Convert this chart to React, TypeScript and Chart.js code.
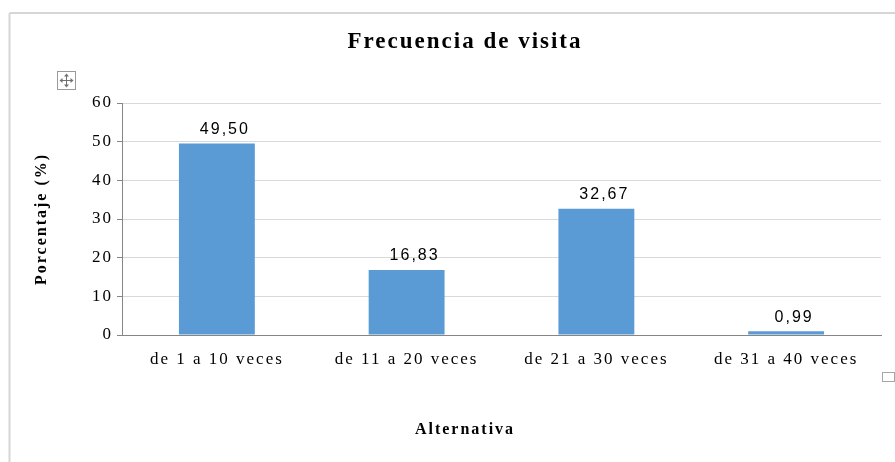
import { useEffect, useRef } from 'react';
import { Chart, registerables } from 'chart.js';

Chart.register(...registerables);

// ---- data ----
const categories = ['de 1 a 10 veces', 'de 11 a 20 veces', 'de 21 a 30 veces', 'de 31 a 40 veces'];
const percentages = [49.5, 16.83, 32.67, 0.99];
const yMin = 0;
const yMax = 60;
const yStep = 10;
const chartTitle = 'Frecuencia de visita';
const yTitle = 'Porcentaje (%)';
const xTitle = 'Alternativa';

const SERIF = "'Liberation Serif', 'Times New Roman', serif";
const SANS = "'Liberation Sans', Arial, sans-serif";
const SPACING = '2px';

const fmt = (v: number) => v.toFixed(2).replace('.', ',');

const spacingPlugin = {
  id: 'letterSpacingPlugin',
  beforeUpdate(chart: any) { chart.ctx.letterSpacing = SPACING; },
  beforeLayout(chart: any) { chart.ctx.letterSpacing = SPACING; },
  beforeDraw(chart: any) { chart.ctx.letterSpacing = SPACING; },
};

const framePlugin = {
  id: 'framePlugin',
  beforeDraw(chart: any) {
    const ctx = chart.ctx as CanvasRenderingContext2D;
    const W = chart.width;
    const H = chart.height;
    ctx.save();
    ctx.fillStyle = '#ffffff';
    ctx.fillRect(0, 0, W, H);
    // outer frame
    ctx.strokeStyle = '#d6d6d6';
    ctx.lineWidth = 2;
    ctx.beginPath();
    ctx.moveTo(9.5, 13);
    ctx.lineTo(W, 13);
    ctx.moveTo(9.5, 13);
    ctx.lineTo(9.5, H);
    ctx.stroke();
    // move handle icon
    ctx.lineWidth = 1;
    ctx.strokeStyle = '#9a9a9a';
    ctx.strokeRect(57.5, 71.5, 18, 18);
    const cx = 66.5, cy = 80.5;
    ctx.strokeStyle = '#707070';
    ctx.beginPath();
    ctx.moveTo(cx - 6, cy); ctx.lineTo(cx + 6, cy);
    ctx.moveTo(cx, cy - 6); ctx.lineTo(cx, cy + 6);
    ctx.stroke();
    ctx.fillStyle = '#707070';
    const tri = (pts: number[][]) => {
      ctx.beginPath();
      ctx.moveTo(pts[0][0], pts[0][1]);
      ctx.lineTo(pts[1][0], pts[1][1]);
      ctx.lineTo(pts[2][0], pts[2][1]);
      ctx.closePath();
      ctx.fill();
    };
    tri([[cx - 7, cy], [cx - 4, cy - 2.5], [cx - 4, cy + 2.5]]);
    tri([[cx + 7, cy], [cx + 4, cy - 2.5], [cx + 4, cy + 2.5]]);
    tri([[cx, cy - 7], [cx - 2.5, cy - 4], [cx + 2.5, cy - 4]]);
    tri([[cx, cy + 7], [cx - 2.5, cy + 4], [cx + 2.5, cy + 4]]);
    // resize handle bottom right
    ctx.strokeStyle = '#a6a6a6';
    ctx.strokeRect(882.5, 372.5, 12, 9);
    ctx.restore();
  },
};

const valueLabelPlugin = {
  id: 'valueLabelPlugin',
  afterDatasetsDraw(chart: any) {
    const ctx = chart.ctx as CanvasRenderingContext2D;
    const meta = chart.getDatasetMeta(0);
    const values = chart.data.datasets[0].data as number[];
    ctx.save();
    ctx.letterSpacing = SPACING;
    ctx.font = `16px ${SANS}`;
    ctx.fillStyle = '#000000';
    ctx.textAlign = 'center';
    ctx.textBaseline = 'bottom';
    meta.data.forEach((bar: any, i: number) => {
      ctx.fillText(fmt(values[i]), bar.x + 8, bar.y - 6);
    });
    ctx.restore();
  },
};

export default function App() {
  const ref = useRef<HTMLCanvasElement>(null);

  useEffect(() => {
    if (!ref.current) return;
    const chart = new Chart(ref.current, {
      type: 'bar',
      data: {
        labels: categories,
        datasets: [
          {
            data: percentages,
            backgroundColor: '#5b9bd5',
            borderWidth: 0,
            barPercentage: 0.4,
            categoryPercentage: 1,
          },
        ],
      },
      options: {
        responsive: false,
        devicePixelRatio: 1,
        animation: false,
        events: [],
        layout: { padding: { left: 49, right: 14, top: 0, bottom: 0 } },
        plugins: {
          legend: { display: false },
          tooltip: { enabled: false },
          title: {
            display: true,
            text: chartTitle,
            color: '#000000',
            font: { family: SERIF, size: 23, weight: 'bold' },
            padding: { top: 28.2, bottom: 47.2 },
          },
          subtitle: {
            display: true,
            position: 'bottom',
            text: xTitle,
            color: '#000000',
            font: { family: SERIF, size: 16, weight: 'bold' },
            padding: { top: 10, bottom: 22.4 },
          },
        },
        scales: {
          x: {
            grid: { display: false, drawTicks: false },
            border: { display: true, color: '#868686', width: 1 },
            ticks: {
              color: '#000000',
              font: { family: SERIF, size: 17 },
              padding: 14,
              autoSkip: false,
              maxRotation: 0,
              minRotation: 0,
            },
            afterFit(scale: any) { scale.height = 75.4; },
          },
          y: {
            min: yMin,
            max: yMax,
            ticks: {
              stepSize: yStep,
              color: '#000000',
              font: { family: SERIF, size: 17 },
              padding: 4,
            },
            grid: { color: '#d9d9d9', tickColor: '#868686', tickLength: 5, drawTicks: true },
            border: { display: true, color: '#868686', width: 1 },
            title: {
              display: true,
              text: yTitle,
              color: '#000000',
              font: { family: SERIF, size: 16, weight: 'bold' },
              padding: { top: -16.6, bottom: 0 },
            },
            afterFit(scale: any) { scale.width = 73; },
          },
        },
      },
      plugins: [spacingPlugin, framePlugin, valueLabelPlugin],
    } as any);
    return () => chart.destroy();
  }, []);

  return (
    <div style={{ position: 'fixed', left: 0, top: 0, width: 895, height: 462, background: '#ffffff' }}>
      <canvas ref={ref} width={895} height={462} style={{ display: 'block', width: 895, height: 462 }} />
    </div>
  );
}
